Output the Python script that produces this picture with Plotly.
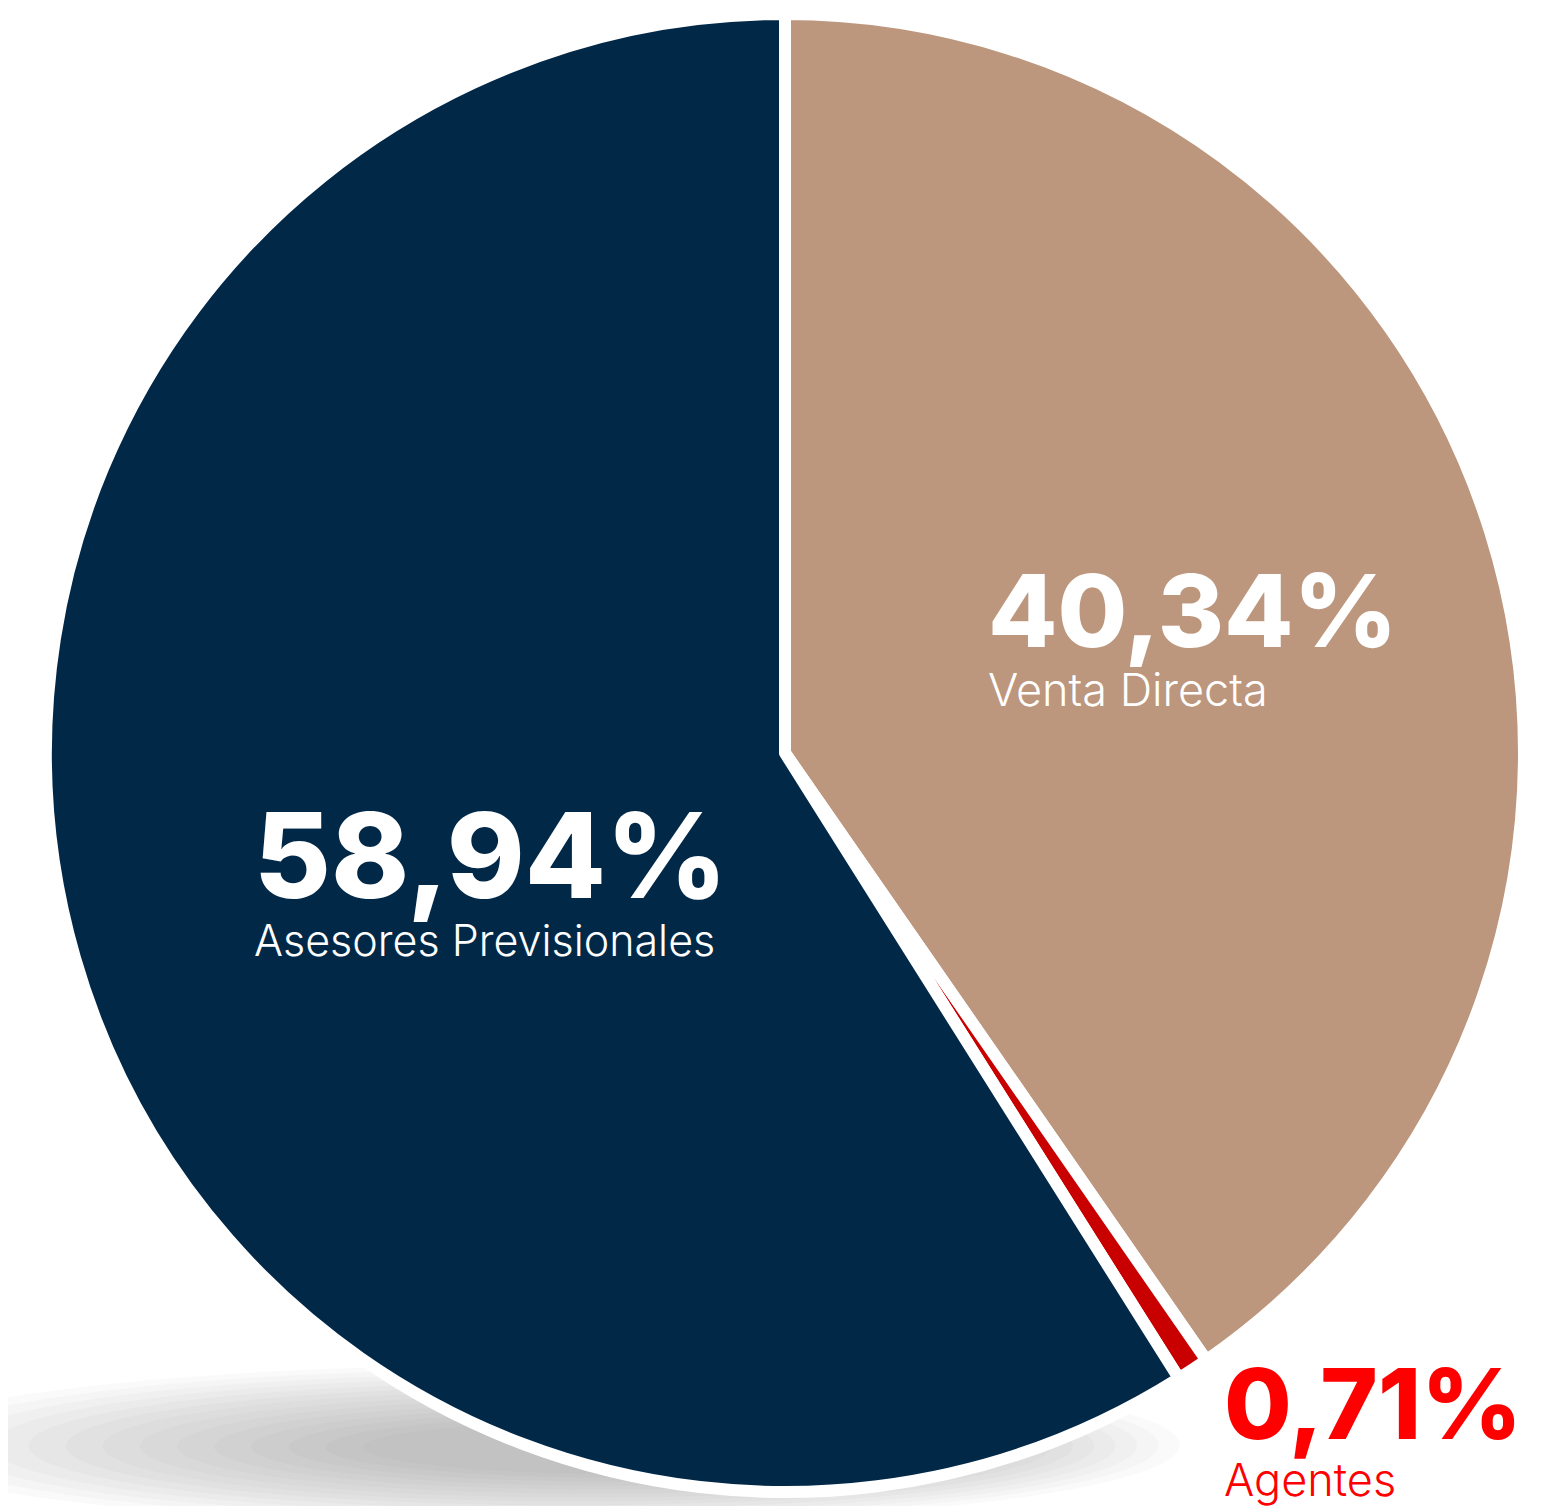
import plotly.graph_objects as go

# datos
canales = ["Venta Directa", "Agentes", "Asesores Previsionales"]
porcentajes = [40.34, 0.71, 58.94]
colores = ["#BC967D", "#C80000", "#022848"]
colores_texto = ["white", "#FF0000", "white"]

W, H = 1548, 1506
OFF = 8  # margen del <body> de la página
cx, cy, r = 785, 753, 739


def px_x(x):
    return (x - OFF) / W


def px_y(y):
    return 1 - (y - OFF) / H


fig = go.Figure()
fig.add_trace(
    go.Pie(
        labels=canales,
        values=porcentajes,
        sort=False,
        direction="clockwise",
        rotation=0,
        marker=dict(colors=colores, line=dict(color="white", width=12)),
        textinfo="none",
        hoverinfo="label+percent",
        showlegend=False,
        domain=dict(x=[px_x(cx - r), px_x(cx + r)], y=[px_y(cy + r), px_y(cy - r)]),
    )
)

# sombra difusa bajo el pastel
for k in range(14):
    shrink = k / 14
    fig.add_shape(
        type="circle", xref="paper", yref="paper", layer="below",
        x0=px_x(-120 + 520 * shrink), x1=px_x(1180 - 300 * shrink),
        y0=px_y(1525 - 55 * shrink), y1=px_y(1365 + 60 * shrink),
        fillcolor="rgba(120,120,120,0.035)", line=dict(width=0),
    )

# etiquetas: (x número, y número, x texto, y texto)
posiciones = [(986, 610, 986, 689), (1222, 1403, 1222, 1479), (252, 855, 252, 940)]
tam_num = [101, 98, 118]
tam_txt = [45, 45, 43]
for i, canal in enumerate(canales):
    xn, yn, xl, yl = posiciones[i]
    fig.add_annotation(
        x=px_x(xn), y=px_y(yn), xref="paper", yref="paper",
        xanchor="left", yanchor="middle", showarrow=False,
        text=f"{porcentajes[i]:.2f}%".replace(".", ","),
        font=dict(family="Inter", size=tam_num[i], color=colores_texto[i], weight=800),
    )
    fig.add_annotation(
        x=px_x(xl), y=px_y(yl), xref="paper", yref="paper",
        xanchor="left", yanchor="middle", showarrow=False,
        text=canal,
        font=dict(family="Inter", size=tam_txt[i], color=colores_texto[i], weight=300),
    )

fig.update_layout(
    width=W, height=H,
    margin=dict(l=0, r=0, t=0, b=0),
    paper_bgcolor="white",
    plot_bgcolor="white",
)

fig.write_html("out.html")
